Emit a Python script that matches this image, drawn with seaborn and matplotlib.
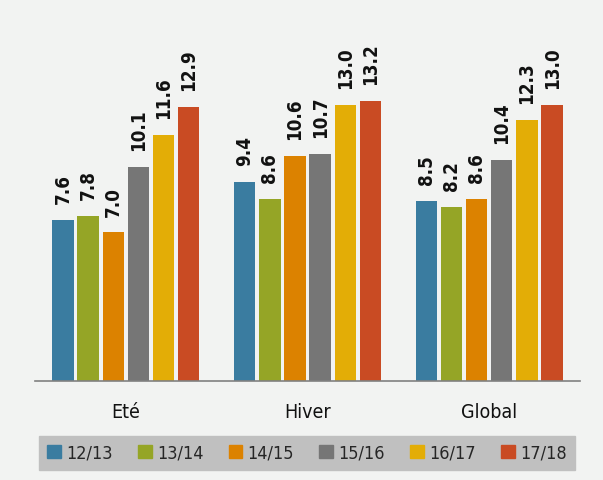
import pandas as pd
import seaborn as sns
import matplotlib.pyplot as plt

categories = ['Eté', 'Hiver', 'Global']
seasons = ['12/13', '13/14', '14/15', '15/16', '16/17', '17/18']
values = {
    '12/13': [7.6, 9.4, 8.5],
    '13/14': [7.8, 8.6, 8.2],
    '14/15': [7.0, 10.6, 8.6],
    '15/16': [10.1, 10.7, 10.4],
    '16/17': [11.6, 13.0, 12.3],
    '17/18': [12.9, 13.2, 13.0],
}
colors = ['#3a7ca0', '#95a526', '#dc8200', '#767676', '#e3ad06', '#c94b23']

rows = []
for s in seasons:
    for c, v in zip(categories, values[s]):
        rows.append({'cat': c, 'season': s, 'val': v})
df = pd.DataFrame(rows)

sns.set_theme(style="white")
plt.rcParams['font.family'] = ['DejaVu Sans']
plt.rcParams['font.stretch'] = 'condensed'
bg = '#f2f3f2'

fig = plt.figure(figsize=(6.03, 4.80), dpi=100, facecolor=bg)
ax = fig.add_axes([0.058, 0.206, 0.904, 0.752])
ax.set_facecolor(bg)

sns.barplot(data=df, x='cat', y='val', hue='season', hue_order=seasons,
            palette=colors, width=0.83, gap=0.15, saturation=1,
            linewidth=0, legend=False, ax=ax)

# value labels
for cont in ax.containers:
    for bar in cont:
        h = bar.get_height()
        ax.text(bar.get_x() + bar.get_width() / 2, h + 0.75, f'{h:.1f}',
                rotation=90, ha='center', va='bottom', fontsize=13.5,
                fontweight='bold', color='#111111', fontstretch='condensed')

ax.set_xlim(-0.5, 2.5)
ax.set_ylim(0, 17)
ax.set_yticks([])
ax.set_xlabel('')
ax.set_ylabel('')
for sp in ['top', 'right', 'left']:
    ax.spines[sp].set_visible(False)
ax.spines['bottom'].set_color('#808080')
ax.spines['bottom'].set_linewidth(1.2)
ax.tick_params(axis='x', length=0, pad=16, labelsize=14, colors='#111111')

handles = [plt.Rectangle((0, 0), 1, 1, color=c) for c in colors]
leg = fig.legend(handles, seasons, loc='center', bbox_to_anchor=(0.509, 0.056),
                 ncol=6, frameon=True, fancybox=False, fontsize=13,
                 handlelength=0.75, handleheight=0.75, handletextpad=0.3,
                 columnspacing=1.4, borderpad=0.45, borderaxespad=0)
leg.get_frame().set_facecolor('#c0c0c0')
leg.get_frame().set_edgecolor('#c0c0c0')
leg.get_frame().set_alpha(1)

fig.savefig('out.png', dpi=100, facecolor=bg)
